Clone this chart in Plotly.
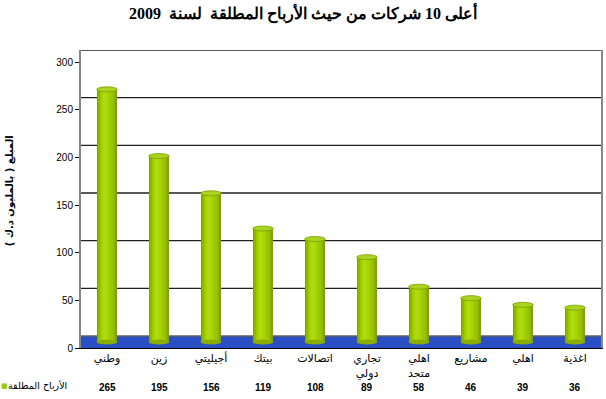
import plotly.graph_objects as go

# ---- data ----
companies = ["وطني", "زين", "أجيليتي", "بيتك", "اتصالات", "تجاري<br>دولي",
             "اهلي<br>متحد", "مشاريع", "اهلي", "اغذية"]
profits = [265, 195, 156, 119, 108, 89, 58, 46, 39, 36]
y_ticks = [0, 50, 100, 150, 200, 250, 300]
series_name = "الأرباح المطلقة"
title_text = "أعلى 10 شركات من حيث الأرباح المطلقة  لسنة  2009"
y_title = "المبلغ ( بالمليون د.ك )"

# ---- layout constants ----
W, H = 606, 399
M_L, M_R, M_T, M_B = 81, 3, 50, 51
PLOT_W = W - M_L - M_R
PLOT_H = H - M_T - M_B
GRID_SHIFT = 12      # px: back wall offset (3D look)
BAR_SHIFT = 6        # px: bars stand in the middle of the floor
Y_MAX = 300 * PLOT_H / (PLOT_H - GRID_SHIFT)
UNIT_PER_PX = Y_MAX / PLOT_H
bar_base = BAR_SHIFT * UNIT_PER_PX

xs = list(range(len(companies)))

fig = go.Figure()

# cylinder shading built from overlaid bars of decreasing width
layers = [
    (0.40, 0.000, "#6C8A00"),
    (0.37, 0.000, "#80A200"),
    (0.32, -0.005, "#90B600"),
    (0.25, -0.015, "#9CC600"),
    (0.17, -0.030, "#A6D200"),
    (0.08, -0.045, "#AEDA10"),
]
for w, c, col in layers:
    fig.add_trace(go.Bar(
        x=xs, y=profits, base=[bar_base] * len(profits),
        width=w, offset=c - w / 2,
        marker=dict(color=col, line=dict(width=0)),
        showlegend=False, hoverinfo="skip" if w != 0.40 else None,
    ))

shapes = []
# back-wall gridlines
for t in y_ticks[1:]:
    shapes.append(dict(type="line", xref="paper", x0=0, x1=1,
                       yref="y", ysizemode="pixel", yanchor=t,
                       y0=GRID_SHIFT, y1=GRID_SHIFT,
                       line=dict(color="#202020", width=1.3), layer="below"))
# floor
shapes.append(dict(type="rect", xref="paper", x0=0, x1=1,
                   yref="y", ysizemode="pixel", yanchor=0, y0=0, y1=GRID_SHIFT,
                   fillcolor="#2A4EC4", line=dict(width=0), layer="below"))
shapes.append(dict(type="line", xref="paper", x0=0, x1=1,
                   yref="y", ysizemode="pixel", yanchor=0, y0=GRID_SHIFT, y1=GRID_SHIFT,
                   line=dict(color="#606060", width=1.5), layer="below"))
# cylinder caps
for i, v in enumerate(profits):
    shapes.append(dict(type="circle", xref="x", x0=i - 0.2, x1=i + 0.2,
                       yref="y", ysizemode="pixel", yanchor=v + bar_base, y0=-2.5, y1=2.5,
                       fillcolor="#A8D420", line=dict(color="#7E9E00", width=0.8),
                       layer="above"))
    shapes.append(dict(type="circle", xref="x", x0=i - 0.2, x1=i + 0.2,
                       yref="y", ysizemode="pixel", yanchor=bar_base, y0=-2.5, y1=2.5,
                       fillcolor="#8AAE00", line=dict(width=0),
                       layer="above"))

annotations = []
# data-table values
for i, v in enumerate(profits):
    annotations.append(dict(x=i, xref="x", y=-39 / PLOT_H, yref="paper",
                            text=f"<b>{v}</b>", showarrow=False,
                            font=dict(family="Liberation Sans, DejaVu Sans", size=10, color="#000"),
                            xanchor="center", yanchor="middle"))
# legend key
annotations.append(dict(x=-12 / PLOT_W, xref="paper", y=-37 / PLOT_H, yref="paper",
                        text=series_name, showarrow=False,
                        font=dict(family="DejaVu Sans", size=9.5, color="#000"),
                        xanchor="right", yanchor="middle"))
annotations.append(dict(x=-77 / PLOT_W, xref="paper", y=-38 / PLOT_H, yref="paper",
                        text="■", showarrow=False,
                        font=dict(family="DejaVu Sans", size=7, color="#99CC00"),
                        xanchor="center", yanchor="middle"))
# y-axis title
annotations.append(dict(x=-71 / PLOT_W, xref="paper", y=(348 - 191) / PLOT_H, yref="paper",
                        text=f"<b>{y_title}</b>", showarrow=False, textangle=-90,
                        font=dict(family="DejaVu Sans", size=10, color="#000"),
                        xanchor="center", yanchor="middle"))

fig.update_layout(
    width=W, height=H,
    margin=dict(l=M_L, r=M_R, t=M_T, b=M_B),
    paper_bgcolor="white", plot_bgcolor="white",
    barmode="overlay", bargap=0,
    showlegend=False,
    title=dict(text=f"<b>{title_text}</b>", x=0.5, xref="container", xanchor="center",
               y=1 - 13 / H, yref="container", yanchor="middle",
               font=dict(family="Liberation Serif, DejaVu Serif", size=16, color="#000")),
    xaxis=dict(range=[-0.5, len(companies) - 0.5], tickvals=xs, ticktext=companies,
               showgrid=False, zeroline=False, showline=True, linecolor="#000", linewidth=1,
               ticks="", tickfont=dict(family="DejaVu Sans", size=11, color="#000")),
    yaxis=dict(range=[0, Y_MAX], tickvals=y_ticks, showgrid=False, zeroline=False,
               showline=True, mirror=True, linecolor="#888888", linewidth=2,
               ticks="outside", ticklen=4, tickcolor="#000",
               tickfont=dict(family="Liberation Sans, DejaVu Sans", size=10, color="#000")),
    shapes=shapes, annotations=annotations,
)

fig.write_html("out.html")
